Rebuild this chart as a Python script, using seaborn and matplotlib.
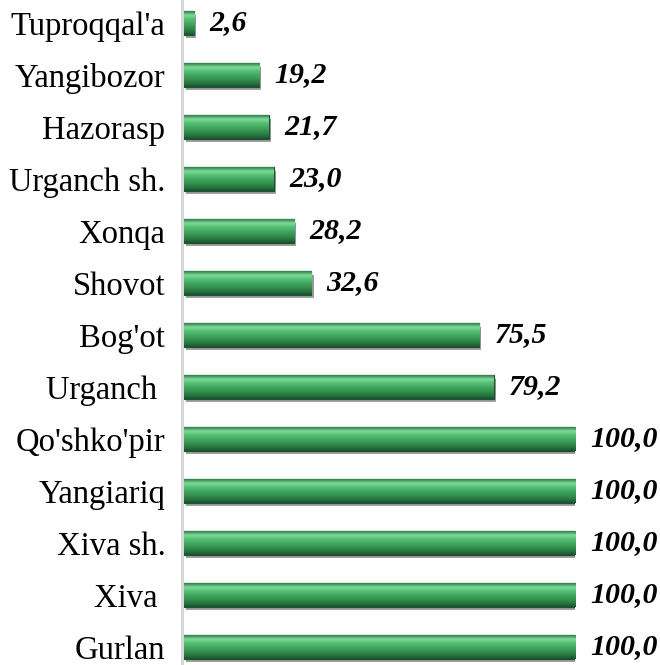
import numpy as np
import pandas as pd
import matplotlib
matplotlib.use("Agg")
import matplotlib.pyplot as plt
import matplotlib.patheffects as pe
from matplotlib.colors import LinearSegmentedColormap
import seaborn as sns

# dados do grafico (de cima para baixo)
tumanlar = ["Tuproqqal'a", "Yangibozor", "Hazorasp", "Urganch sh.", "Xonqa", "Shovot",
            "Bog'ot", "Urganch ", "Qo'shko'pir", "Yangiariq", "Xiva sh.", "Xiva ", "Gurlan"]
foizlar = [2.6, 19.2, 21.7, 23.0, 28.2, 32.6, 75.5, 79.2, 100.0, 100.0, 100.0, 100.0, 100.0]

df = pd.DataFrame({"tuman": tumanlar, "foiz": foizlar})

sns.set_style("white")
plt.rcParams['font.family'] = ['Liberation Serif', 'DejaVu Serif']

fig = plt.figure(figsize=(6.6, 6.65), dpi=100)
ax = fig.add_axes([182/660, -8/665, 393/660, 676/665])

sns.barplot(data=df, x="foiz", y="tuman", orient="h", width=0.46,
            color="#3a9a58", edgecolor="#1c5230", linewidth=0.9, ax=ax)

# gradiente verde para imitar o efeito 3D das barras
cor_grad = LinearSegmentedColormap.from_list("verde", ["#2f7d47", "#80da9b", "#55c074", "#42a862",
                                                         "#35944f", "#2a7a43", "#1c5230"])
grad = np.linspace(0, 1, 64).reshape(-1, 1)
for p in ax.patches:
    x0, y0 = p.get_x(), p.get_y()
    w, h = p.get_width(), p.get_height()
    im = ax.imshow(grad, cmap=cor_grad, aspect="auto", extent=(x0, x0 + w, y0 + h, y0),
                   origin="upper", zorder=p.get_zorder() + 0.1)
    im.set_clip_path(p)
    p.set_path_effects([pe.SimplePatchShadow(offset=(1.5, -2.5), shadow_rgbFace="#444444", alpha=0.5),
                        pe.Normal()])

ax.set_xlim(-0.5, 100)
ax.set_ylim(12.5, -0.5)

for i, v in enumerate(foizlar):
    ax.annotate(f"{v:.1f}".replace(".", ","), xy=(v, i), xytext=(11, 0), textcoords="offset points",
                va="center", ha="left", fontsize=21.5, fontweight="bold", fontstyle="italic",
                color="black", annotation_clip=False)

ax.set_xlabel("")
ax.set_ylabel("")
ax.set_xticks([])
ax.tick_params(axis="y", length=0, pad=12, labelsize=23.5, labelcolor="black")
for s in ["top", "right", "bottom"]:
    ax.spines[s].set_visible(False)
ax.spines["left"].set_color("#d4d4d4")
ax.spines["left"].set_linewidth(2)

fig.savefig("out.png", dpi=100)
